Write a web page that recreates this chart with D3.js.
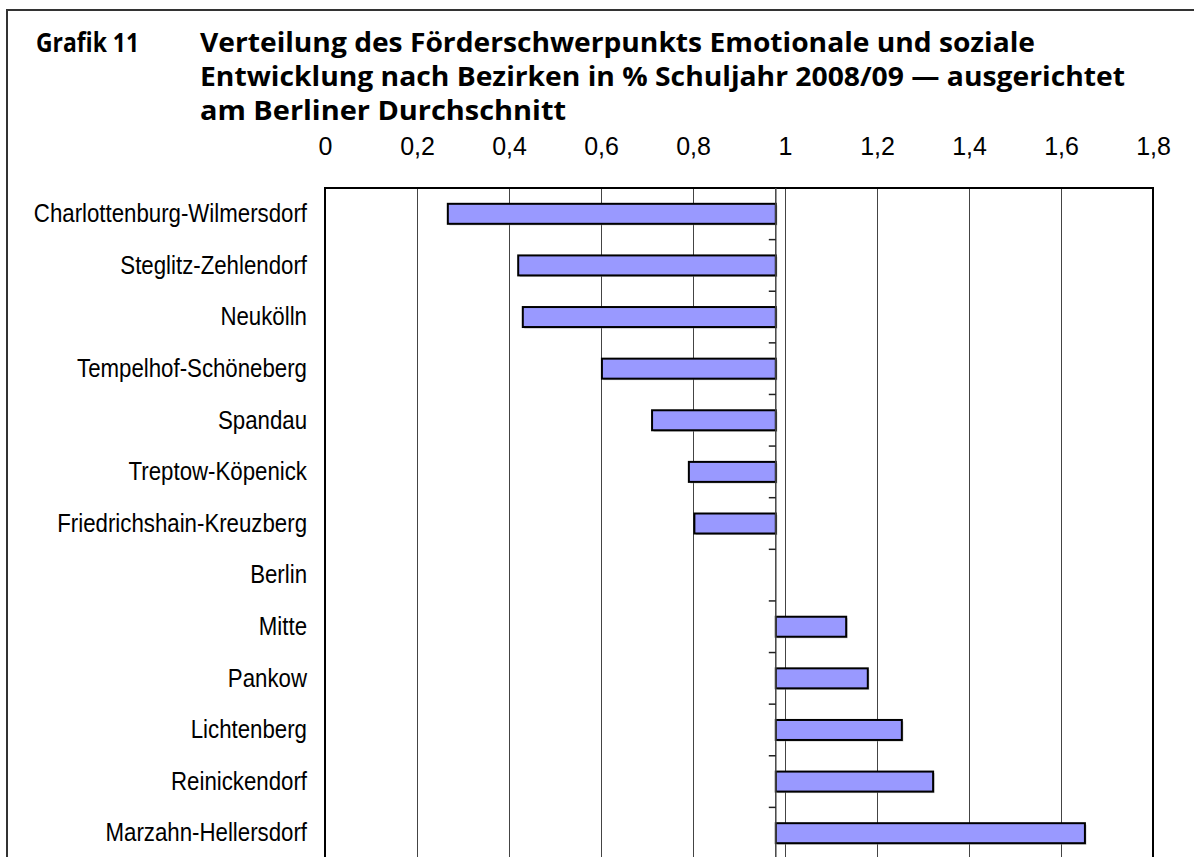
<!DOCTYPE html>
<html>
<head>
<meta charset="utf-8">
<script src="https://cdn.jsdelivr.net/npm/d3@7"></script>
<style>
  body { margin: 0; background: #fff; }
</style>
</head>
<body>
<script>
var districts = [
  "Charlottenburg-Wilmersdorf",
  "Steglitz-Zehlendorf",
  "Neukölln",
  "Tempelhof-Schöneberg",
  "Spandau",
  "Treptow-Köpenick",
  "Friedrichshain-Kreuzberg",
  "Berlin",
  "Mitte",
  "Pankow",
  "Lichtenberg",
  "Reinickendorf",
  "Marzahn-Hellersdorf"
];
var values = [0.267, 0.42, 0.43, 0.602, 0.711, 0.791, 0.803, 0.98, 1.133, 1.18, 1.254, 1.322, 1.652];
var berlinAverage = 0.98;

var tickValues = [0, 0.2, 0.4, 0.6, 0.8, 1, 1.2, 1.4, 1.6, 1.8];
var tickLabels = ["0", "0,2", "0,4", "0,6", "0,8", "1", "1,2", "1,4", "1,6", "1,8"];

var chartLabel = "Grafik 11";
var titleLines = [
  "Verteilung des Förderschwerpunkts Emotionale und soziale",
  "Entwicklung nach Bezirken in % Schuljahr 2008/09 — ausgerichtet",
  "am Berliner Durchschnitt"
];

var totalWidth = 1194;
var totalHeight = 857;

var margins = {
  top: 188,
  left: 325
};

var plotWidth = 828;
var plotHeight = 671;
var barHeight = 20;

var translation = function(x, y) {
  return "translate(" + x + "," + y + ")";
};

var data = districts.map(function(d, i) {
  return { name: d, value: values[i] };
});

var scaleX = d3.scaleLinear()
  .domain([0, 1.8])
  .range([0, plotWidth]);

var scaleY = d3.scaleBand()
  .domain(districts)
  .range([0, plotHeight])
  .padding(0);

var svgRoot = d3.select("body").append("svg")
  .attr("width", totalWidth)
  .attr("height", totalHeight)
  .style("display", "block");

// outer frame
svgRoot.append("rect")
  .attr("x", 7)
  .attr("y", 10)
  .attr("width", totalWidth + 20)
  .attr("height", totalHeight + 20)
  .attr("fill", "none")
  .attr("stroke", "#333")
  .attr("stroke-width", 2);

// title
svgRoot.append("text")
  .attr("x", 36)
  .attr("y", 52)
  .attr("textLength", 103)
  .attr("lengthAdjust", "spacingAndGlyphs")
  .style("font-family", "'Open Sans', sans-serif")
  .style("font-weight", "bold")
  .style("font-size", "26px")
  .text(chartLabel);

var titleWidths = [835, 925, 366];
var titleBase = [52, 86, 120];

svgRoot.selectAll(".title")
  .data(titleLines)
  .enter().append("text")
  .attr("class", "title")
  .attr("x", 200)
  .attr("y", function(d, i) { return titleBase[i]; })
  .attr("textLength", function(d, i) { return titleWidths[i]; })
  .attr("lengthAdjust", "spacingAndGlyphs")
  .style("font-family", "'Open Sans', sans-serif")
  .style("font-weight", "bold")
  .style("font-size", "26px")
  .text(function(d) { return d; });

var svg = svgRoot.append("g")
  .attr("transform", translation(margins.left, margins.top));

// vertical gridlines
svg.selectAll(".grid")
  .data(tickValues.slice(1, -1))
  .enter().append("line")
  .attr("class", "grid")
  .attr("x1", function(d) { return Math.round(scaleX(d)) + 0.5; })
  .attr("x2", function(d) { return Math.round(scaleX(d)) + 0.5; })
  .attr("y1", 0)
  .attr("y2", plotHeight)
  .attr("stroke", "#444")
  .attr("stroke-width", 1);

// top value axis (labels only)
var xAxis = svg.append("g")
  .call(d3.axisTop(scaleX)
    .tickValues(tickValues)
    .tickSize(0)
    .tickPadding(33)
    .tickFormat(function(d, i) { return tickLabels[i]; }));

xAxis.select(".domain").remove();
xAxis.selectAll("text")
  .style("font-family", "'Liberation Sans', Arial, sans-serif")
  .style("font-size", "25px")
  .attr("fill", "#000");

// plot frame
svg.append("path")
  .attr("d", "M0," + (plotHeight + 5) + "V0H" + plotWidth + "V" + (plotHeight + 5))
  .attr("fill", "none")
  .attr("stroke", "#000")
  .attr("stroke-width", 2);

var barY = function(d) {
  return scaleY(d.name) + (scaleY.bandwidth() - barHeight) / 2;
};
var barX = function(d) {
  return scaleX(Math.min(d.value, berlinAverage));
};
var barW = function(d) {
  return Math.abs(scaleX(d.value) - scaleX(berlinAverage));
};

var barData = data.filter(function(d) { return barW(d) > 0.5; });

// soft shadow
svg.selectAll(".shadow")
  .data(barData)
  .enter().append("rect")
  .attr("class", "shadow")
  .attr("x", function(d) { return barX(d) + 1.5; })
  .attr("y", function(d) { return barY(d) + 1.5; })
  .attr("width", barW)
  .attr("height", barHeight)
  .attr("fill", "#999")
  .attr("opacity", 0.6);

svg.selectAll(".bar")
  .data(barData)
  .enter().append("rect")
  .attr("class", "bar")
  .attr("x", barX)
  .attr("y", barY)
  .attr("width", barW)
  .attr("height", barHeight)
  .attr("fill", "#9999ff")
  .attr("stroke", "#000")
  .attr("stroke-width", 2);

// category axis crossing at the Berlin average
var axisX = scaleX(berlinAverage);

svg.append("line")
  .attr("x1", axisX)
  .attr("x2", axisX)
  .attr("y1", 0)
  .attr("y2", plotHeight)
  .attr("stroke", "#444")
  .attr("stroke-width", 1.5);

svg.selectAll(".cat-tick")
  .data(districts.slice(1))
  .enter().append("line")
  .attr("class", "cat-tick")
  .attr("x1", axisX - 7)
  .attr("x2", axisX)
  .attr("y1", function(d) { return scaleY(d); })
  .attr("y2", function(d) { return scaleY(d); })
  .attr("stroke", "#222")
  .attr("stroke-width", 1.5);

// category labels
svg.selectAll(".cat-label")
  .data(districts)
  .enter().append("text")
  .attr("class", "cat-label")
  .attr("transform", function(d) {
    return translation(-18, scaleY(d) + scaleY.bandwidth() / 2) + " scale(0.89,1)";
  })
  .attr("dy", "0.33em")
  .style("text-anchor", "end")
  .style("font-family", "'Liberation Sans', Arial, sans-serif")
  .style("font-size", "25px")
  .text(function(d) { return d; });
</script>
</body>
</html>
